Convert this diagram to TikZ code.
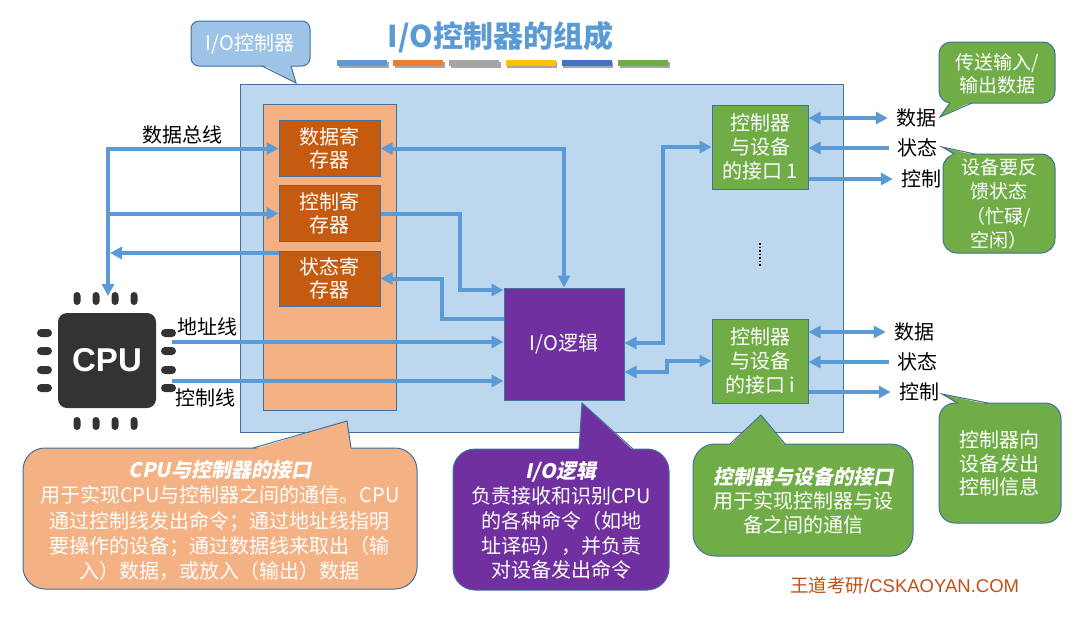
\documentclass[tikz,border=0pt]{standalone}
\usepackage{fontspec}
\setmainfont{Noto Sans CJK SC}
\newfontfamily\lsans{Liberation Sans}
\newfontfamily\cjkbi{Noto Sans CJK SC}[FakeSlant=0.2]
\usetikzlibrary{arrows.meta,calc}
\definecolor{ablue}{HTML}{5B9BD5}
\definecolor{bord}{HTML}{41719C}
\definecolor{boxbg}{HTML}{BDD7EE}
\definecolor{peach}{HTML}{F4B183}
\definecolor{rust}{HTML}{C55A11}
\definecolor{purp}{HTML}{7030A0}
\definecolor{grn}{HTML}{70AD47}
\definecolor{lblue}{HTML}{9DC3E6}
\definecolor{chip}{HTML}{333333}
\definecolor{wmk}{HTML}{C0501A}
\definecolor{barA}{HTML}{5B9BD5}
\definecolor{barB}{HTML}{ED7D31}
\definecolor{barC}{HTML}{A5A5A5}
\definecolor{barD}{HTML}{FFC000}
\definecolor{barE}{HTML}{4472C4}
\definecolor{barF}{HTML}{70AD47}
\tikzset{
  boxnode/.style={draw=bord, line width=1pt, inner sep=0pt, align=center, text=white,
    font=\fontsize{20}{23}\selectfont},
  conn/.style={draw=ablue, line width=4pt},
  lbl/.style={font=\fontsize{20}{24}\selectfont, text=black, inner xsep=8pt, inner ysep=2pt},
  cotext/.style={text=white, align=center},
  edge1/.style={draw=bord, line width=1pt},
}
\begin{document}
\begin{tikzpicture}[x=1pt, y=-1pt, >={Triangle[length=12pt,width=12pt]}]
\useasboundingbox (0,0) rectangle (1082,619);
\fill[white] (0,0) rectangle (1082,619);

% title
\node[text=ablue, font=\bfseries\fontsize{30}{30}\selectfont] (title) at (500.5,37) {I/O控制器的组成};
\foreach \i/\c in {0/barA,1/barB,2/barC,3/barD,4/barE,5/barF}{
  \fill[black!35] ({337+56.2*\i+1.5},61.5) rectangle ({387+56.2*\i+1.5},67.5);
  \fill[\c] ({337+56.2*\i},60) rectangle ({387+56.2*\i},66);
}

% callout: I/O controller
\fill[lblue, rounded corners=8] (191,21) rectangle (310,66);
\draw[edge1, rounded corners=8] (191,21) rectangle (310,66);
\fill[lblue] (262,64.5) -- (296,83) -- (291,64.5) -- cycle;
\draw[edge1] (262,66) -- (296,83) -- (291,66);
\node[text=white, font=\fontsize{20}{24}\selectfont] (ctrlname) at (250,44) {I/O控制器};

% main box
\node[draw=bord, fill=boxbg, line width=1pt, minimum width=603pt, minimum height=348pt, inner sep=0pt] (ctrl) at (541.5,258) {};
\node[draw=bord, fill=peach, line width=1pt, minimum width=133pt, minimum height=306pt, inner sep=0pt] (panel) at (329.5,257) {};

% registers
\node[boxnode, fill=rust, minimum width=101pt, minimum height=56pt] (dreg) at (329.5,148.5) {数据寄\\存器};
\node[boxnode, fill=rust, minimum width=101pt, minimum height=56pt] (creg) at (329.5,213.5) {控制寄\\存器};
\node[boxnode, fill=rust, minimum width=101pt, minimum height=55pt] (sreg) at (329.5,278.5) {状态寄\\存器};

% I/O logic
\node[boxnode, fill=purp, minimum width=120pt, minimum height=112pt] (iol) at (564,344) {I/O逻辑};

% interfaces
\node[boxnode, fill=grn, minimum width=96pt, minimum height=84pt, font=\fontsize{20}{24}\selectfont] (if1) at (760,147) {控制器\\与设备\\的接口 1};
\node[boxnode, fill=grn, minimum width=96pt, minimum height=84pt, font=\fontsize{20}{24}\selectfont] (ifi) at (760,361) {控制器\\与设备\\的接口 i};
\draw[black, line width=1.6pt, dash pattern=on 1.6pt off 1.9pt] (760,243) -- (760,267);

% CPU chip
\foreach \x in {77,96,115,134}{
  \fill[chip, rounded corners=3.5] ({\x-3.5},292) rectangle ({\x+3.5},305);
  \fill[chip, rounded corners=3.5] ({\x-3.5},417) rectangle ({\x+3.5},430);
}
\foreach \y in {333,351,370,388}{
  \fill[chip, rounded corners=4] (37,{\y-4}) rectangle (52,{\y+4});
  \fill[chip, rounded corners=4] (161,{\y-4}) rectangle (176,{\y+4});
}
\node[fill=chip, rounded corners=9, minimum width=98pt, minimum height=95pt, inner sep=0pt,
  text=white, font=\lsans\bfseries\fontsize{33}{33}\selectfont] (cpu) at (107,360.5) {CPU};

% labels on the left
\node[lbl, inner xsep=0pt] (buslbl) at (182,135) {数据总线};
\node[lbl, anchor=west, inner xsep=0pt] (addrlbl) at (177,327) {地址线};
\node[lbl, anchor=west, inner xsep=0pt] (ctllbl) at (175,398) {控制线};

% coordinates
\coordinate (busTop) at (108,148.5);
\coordinate (busEnd) at (108,296);
\coordinate (busS) at (110,253);
\coordinate (addr) at (172,342);
\coordinate (ctl) at (172,381);
\coordinate (y290) at (0,290);
\coordinate (y319) at (0,319);
\coordinate (y343) at (0,343);
\coordinate (y372) at (0,372);
\coordinate (x442) at (442,0);
\coordinate (x460) at (460,0);
\coordinate (x663) at (663,0);
\coordinate (x667) at (667,0);

% data bus
\draw[conn, <->] (busEnd) |- (dreg.west);
\draw[conn, ->] (busTop |- creg.west) -- (creg.west);
\draw[conn, ->] (sreg.west |- busS) -- (busS);
% registers <-> I/O logic
\draw[conn, <->] (dreg.east) -| (iol.north);
\draw[conn, ->] (creg.east) -| (x460 |- y290) -- (iol.west |- y290);
\draw[conn, ->] (iol.west |- y319) -| (x442 |- sreg.east) -- (sreg.east);
% CPU address / control
\draw[conn, ->] (addr) -- (iol.west |- addr);
\draw[conn, ->] (ctl) -- (iol.west |- ctl);
% I/O logic <-> interfaces
\draw[conn, <->] (iol.east |- y343) -| (x663 |- if1.west) -- (if1.west);
\draw[conn, <->] (iol.east |- y372) -| (x667 |- ifi.west) -- (ifi.west);

% device side labels
\node[lbl] (d1) at (916,118) {数据};
\node[lbl] (s1) at (917,148) {状态};
\node[lbl] (c1) at (921,179) {控制};
\node[lbl] (d2) at (914,332) {数据};
\node[lbl] (s2) at (917,362) {状态};
\node[lbl] (c2) at (919,392) {控制};
\draw[conn, <->] (if1.east |- d1) -- (d1.west);
\draw[conn, ->] (s1.west) -- (if1.east |- s1);
\draw[conn, ->] (if1.east |- c1) -- (c1.west);
\draw[conn, <->] (ifi.east |- d2) -- (d2.west);
\draw[conn, ->] (s2.west) -- (ifi.east |- s2);
\draw[conn, ->] (ifi.east |- c2) -- (c2.west);

% callout: data transfer
\fill[grn, rounded corners=12] (939,42) rectangle (1055,103);
\draw[edge1, rounded corners=12] (939,42) rectangle (1055,103);
\fill[grn] (950,101.5) -- (940,117) -- (972,101.5) -- cycle;
\draw[edge1] (950,103) -- (940,117) -- (972,103);
\node[cotext, font=\fontsize{19}{23}\selectfont] (noteData) at (997,73.5) {传送输入/\\输出数据};

% callout: status
\fill[grn, rounded corners=14] (943,154) rectangle (1055,253);
\draw[edge1, rounded corners=14] (943,154) rectangle (1055,253);
\fill[grn] (955,155.5) -- (942,147) -- (975,155.5) -- cycle;
\draw[edge1] (955,154) -- (942,147) -- (975,154);
\node[cotext, font=\fontsize{19}{24.5}\selectfont] (noteStat) at (999,204) {设备要反\\馈状态\\（忙碌/\\空闲）};

% callout: control info
\fill[grn, rounded corners=16] (939,403) rectangle (1061,523);
\draw[edge1, rounded corners=16] (939,403) rectangle (1061,523);
\fill[grn] (958,404.5) -- (942,394) -- (988,404.5) -- cycle;
\draw[edge1] (958,403) -- (942,394) -- (988,403);
\node[cotext, font=\fontsize{20}{23.5}\selectfont] (noteCtl) at (999,463.5) {控制器向\\设备发出\\控制信息};

% callout: CPU interface
\fill[peach, rounded corners=22] (23,448) rectangle (417,589);
\draw[edge1, rounded corners=22] (23,448) rectangle (417,589);
\fill[peach] (253,449.5) -- (347,421) -- (351,449.5) -- cycle;
\draw[edge1] (253,448) -- (347,421) -- (351,448);
\node[cotext, font=\fontsize{20}{25.3}\selectfont] (noteCPU) at (220,520.5)
  {{\cjkbi\bfseries CPU与控制器的接口}\\用于实现CPU与控制器之间的通信。CPU\\通过控制线发出命令；通过地址线指明\\要操作的设备；通过数据线来取出（输\\入）数据，或放入（输出）数据};

% callout: I/O logic
\fill[purp, rounded corners=22] (453,449) rectangle (669,590);
\draw[edge1, rounded corners=22] (453,449) rectangle (669,590);
\fill[purp] (579,450.5) -- (582,403) -- (633,450.5) -- cycle;
\draw[edge1] (579,449) -- (582,403) -- (633,449);
\node[cotext, font=\fontsize{20}{24.8}\selectfont] (noteIOL) at (561,520.5)
  {{\cjkbi\bfseries I/O逻辑}\\负责接收和识别CPU\\的各种命令（如地\\址译码），并负责\\对设备发出命令};

% callout: device interface
\fill[grn, rounded corners=22] (693,444) rectangle (913,556);
\draw[edge1, rounded corners=22] (693,444) rectangle (913,556);
\fill[grn] (730,445.5) -- (761,415) -- (785,445.5) -- cycle;
\draw[edge1] (730,444) -- (761,415) -- (785,444);
\node[cotext, font=\fontsize{20}{24}\selectfont] (noteIF) at (803,501)
  {{\cjkbi\bfseries 控制器与设备的接口}\\用于实现控制器与设\\备之间的通信};

% watermark
\node[text=wmk, anchor=west, inner sep=0pt, font=\fontsize{18.5}{20}\selectfont] (wm) at (790,585) {王道考研{\lsans /CSKAOYAN.COM}};
\end{tikzpicture}
\end{document}
